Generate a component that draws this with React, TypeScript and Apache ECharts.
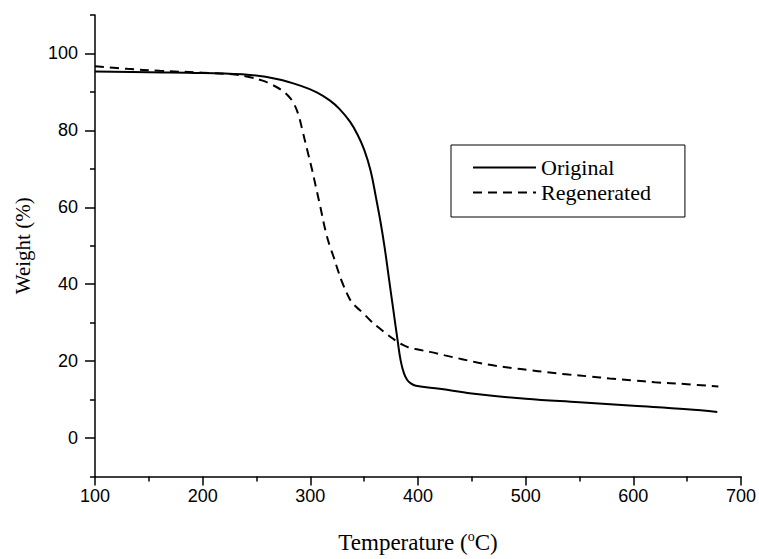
import React, { useEffect, useRef } from "react";
import * as echarts from "echarts";

const originalT = [100, 150, 200, 244, 270, 290, 306, 318, 327, 337, 344, 350, 356, 361, 365, 369, 373, 377, 381, 384, 387, 390, 393, 398, 420, 450, 500, 550, 600, 650, 678];
const originalW = [95.3, 95.1, 94.9, 94.4, 93.3, 91.7, 89.9, 87.8, 85.6, 82.2, 78.8, 75.0, 69.5, 62.5, 56.5, 49.6, 41.5, 33.5, 25.5, 20.0, 16.8, 15.1, 14.3, 13.6, 12.8, 11.6, 10.2, 9.3, 8.4, 7.5, 6.8];

const regenT = [100, 130, 160, 200, 230, 244, 255, 265, 273, 280, 285, 289, 293, 297, 301, 305, 309, 314, 318, 322, 326, 330, 334, 338, 343, 349, 356, 364, 372, 380, 386, 392, 400, 411, 425, 441, 456, 472, 488, 503, 520, 540, 560, 578, 600, 620, 650, 679];
const regenW = [96.7, 96.0, 95.5, 95.0, 94.5, 93.8, 93.0, 91.8, 90.5, 88.8, 86.8, 84.0, 79.6, 75.0, 70.5, 65.5, 60.5, 54.0, 50.0, 46.8, 43.3, 40.2, 37.6, 35.5, 34.0, 32.5, 30.5, 28.6, 26.8, 25.2, 24.2, 23.5, 23.0, 22.4, 21.5, 20.5, 19.6, 18.8, 18.2, 17.7, 17.1, 16.5, 16.0, 15.5, 15.0, 14.5, 14.0, 13.4];

const seriesNames = ["Original", "Regenerated"];
const yMajorTicks = [0, 20, 40, 60, 80, 100];
const yMinorTicks = [-10, 10, 30, 50, 70, 90, 110];

const pairs = (xs: number[], ys: number[]) => xs.map((x, i) => [x, ys[i]]);

export default function App() {
  const ref = useRef<HTMLDivElement>(null);
  useEffect(() => {
    if (!ref.current) return;
    const chart = echarts.init(ref.current, null, { renderer: "svg" });
    const black = "#000";
    const serif = "Liberation Serif";
    const sans = "Liberation Sans";
    chart.setOption({
      animation: false,
      backgroundColor: "#fff",
      grid: { left: 95, right: 17, top: 15, bottom: 77 },
      legend: {
        orient: "vertical",
        left: 451,
        top: 145,
        data: seriesNames,
        itemWidth: 63,
        itemHeight: 14,
        itemGap: 0,
        padding: [10, 34, 12, 21],
        borderColor: black,
        borderWidth: 1,
        backgroundColor: "#fff",
        itemStyle: { opacity: 0 },
        textStyle: { fontFamily: serif, fontSize: 22, color: black, lineHeight: 25 },
      },
      xAxis: {
        type: "value",
        min: 100,
        max: 700,
        interval: 100,
        name: "Temperature ({sup|o}C)",
        nameLocation: "middle",
        nameGap: 53,
        nameTextStyle: {
          fontFamily: serif,
          fontSize: 23,
          color: black,
          rich: { sup: { fontFamily: serif, fontSize: 14, color: black, padding: [0, 0, 12, 0] } },
        },
        axisLine: { show: true, onZero: false, lineStyle: { color: black, width: 1.5 } },
        axisTick: { show: true, length: 9, lineStyle: { color: black, width: 1.5 } },
        minorTick: { show: true, splitNumber: 2, length: 5, lineStyle: { color: black, width: 1.5 } },
        axisLabel: { fontFamily: sans, fontSize: 18, color: black, margin: 10 },
        splitLine: { show: false },
        minorSplitLine: { show: false },
      },
      yAxis: [
        {
          type: "value",
          min: -10,
          max: 110,
          interval: 10,
          name: "Weight (%)",
          nameLocation: "middle",
          nameGap: 62,
          nameTextStyle: { fontFamily: serif, fontSize: 21, color: black },
          axisLine: { show: true, onZero: false, lineStyle: { color: black, width: 1.5 } },
          axisTick: { show: true, length: 10, customValues: yMajorTicks, lineStyle: { color: black, width: 1.5 } },
          axisLabel: { fontFamily: sans, fontSize: 18, color: black, margin: 17, customValues: yMajorTicks },
          splitLine: { show: false },
        },
        {
          type: "value",
          min: -10,
          max: 110,
          interval: 10,
          position: "left",
          axisLine: { show: false, onZero: false },
          axisTick: { show: true, length: 5, customValues: yMinorTicks, lineStyle: { color: black, width: 1.5 } },
          axisLabel: { show: false },
          splitLine: { show: false },
        },
      ],
      series: [
        {
          name: seriesNames[0],
          type: "line",
          data: pairs(originalT, originalW),
          symbol: "none",
          smooth: 0.4,
          color: black,
          lineStyle: { color: black, width: 2, type: "solid" },
        },
        {
          name: seriesNames[1],
          type: "line",
          data: pairs(regenT, regenW),
          symbol: "none",
          smooth: 0.4,
          color: black,
          lineStyle: { color: black, width: 2, type: [9, 6] },
        },
      ],
    });
    return () => chart.dispose();
  }, []);
  return <div ref={ref} style={{ width: 759, height: 559, position: "absolute", left: 0, top: 0 }} />;
}
